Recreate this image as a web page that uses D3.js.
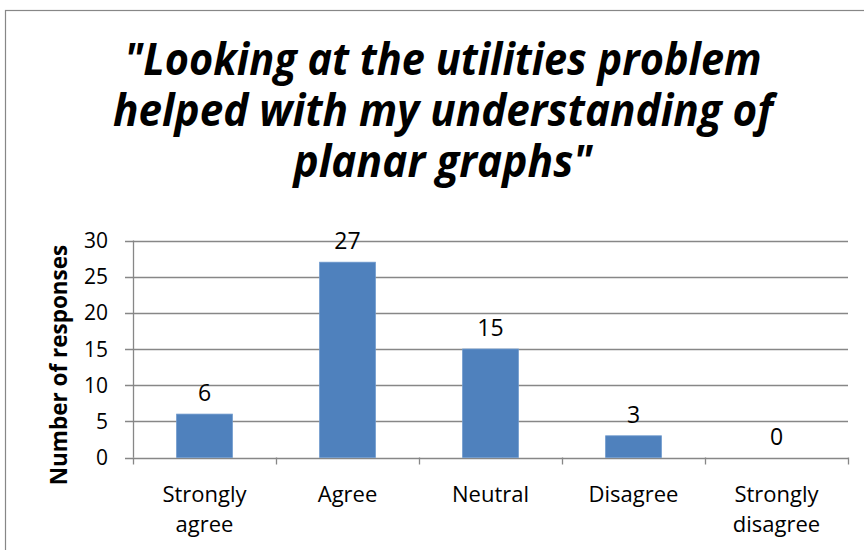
<!DOCTYPE html>
<html><head><meta charset="utf-8">
<script src="https://cdn.jsdelivr.net/npm/d3@7"></script>
<style>body{margin:0;background:#fff}svg{display:block}</style>
</head><body>
<svg id="chart" width="864" height="550"></svg>
<script>
const categories = [["Strongly","agree"],["Agree"],["Neutral"],["Disagree"],["Strongly","disagree"]];
const values = [6, 27, 15, 3, 0];
const yTicks = [0, 5, 10, 15, 20, 25, 30];
const titleLines = ['"Looking at the utilities problem', 'helped with my understanding of', 'planar graphs"'];
const titleWidths = [637, 660, 299];
const yTitle = "Number of responses";

(function() {
const svg = d3.select("#chart");
const font = "'Open Sans', 'Noto Sans', sans-serif";
const grey = "#878787";
const pLeft = 133, pRight = 848, pTop = 240.5, pBottom = 457.5;

// chart border
svg.append("rect").attr("x", 5.5).attr("y", 10.5).attr("width", 900).attr("height", 600)
  .attr("fill", "none").attr("stroke", grey).attr("stroke-width", 1.2);

// title
svg.append("g").selectAll("text").data(titleLines).join("text")
  .attr("x", 443).attr("y", (d, i) => 75 + i * 51)
  .attr("text-anchor", "middle")
  .attr("font-family", font).attr("font-weight", "bold").attr("font-style", "italic")
  .attr("font-size", 44).attr("fill", "#000")
  .attr("textLength", (d, i) => titleWidths[i]).attr("lengthAdjust", "spacingAndGlyphs")
  .text(d => d);

const x = d3.scaleBand().domain(d3.range(categories.length)).range([pLeft, pRight]).padding(0);
const y = d3.scaleLinear().domain([0, 30]).range([pBottom, pTop]);

// gridlines
svg.append("g").selectAll("line").data(yTicks).join("line")
  .attr("x1", pLeft - 8).attr("x2", pRight).attr("y1", d => Math.round(y(d)) + 0.5).attr("y2", d => Math.round(y(d)) + 0.5)
  .attr("stroke", grey).attr("stroke-width", 1.3);

// y axis line
svg.append("line").attr("x1", pLeft + 0.5).attr("x2", pLeft + 0.5).attr("y1", pTop).attr("y2", pBottom)
  .attr("stroke", grey).attr("stroke-width", 1.3);

// x tick marks at band boundaries
const bounds = d3.range(categories.length + 1).map(i => i < categories.length ? x(i) : pRight);
svg.append("g").selectAll("line").data(bounds).join("line")
  .attr("x1", d => Math.round(d) + 0.5).attr("x2", d => Math.round(d) + 0.5)
  .attr("y1", pBottom).attr("y2", pBottom + 7)
  .attr("stroke", grey).attr("stroke-width", 1.3);

// y tick labels
svg.append("g").selectAll("text").data(yTicks).join("text")
  .attr("x", 108).attr("y", d => y(d)).attr("dy", "0.36em")
  .attr("text-anchor", "end").attr("font-family", font).attr("font-size", 21).attr("fill", "#000")
  .text(d => d);

// y axis title
svg.append("text")
  .attr("transform", "translate(67,365) rotate(-90)")
  .attr("text-anchor", "middle").attr("font-family", font).attr("font-weight", "bold")
  .attr("font-size", 22.5).attr("fill", "#000").text(yTitle);

// bars
const bw = x.bandwidth() * 0.39;
svg.append("g").selectAll("rect").data(values).join("rect")
  .attr("x", (d, i) => x(i) + (x.bandwidth() - bw) / 2)
  .attr("y", d => y(d)).attr("width", bw).attr("height", d => y(0) - y(d))
  .attr("fill", "#4F81BD").attr("stroke", "#6d98cc").attr("stroke-width", 0.8);

// data labels
svg.append("g").selectAll("text").data(values).join("text")
  .attr("x", (d, i) => x(i) + x.bandwidth() / 2).attr("y", d => y(d) - 13)
  .attr("text-anchor", "middle").attr("font-family", font).attr("font-size", 23).attr("fill", "#000")
  .text(d => d);

// category labels
const cat = svg.append("g").selectAll("text").data(categories).join("text")
  .attr("text-anchor", "middle").attr("font-family", font).attr("font-size", 22).attr("fill", "#000");
cat.each(function(lines, i) {
  d3.select(this).selectAll("tspan").data(lines).join("tspan")
    .attr("x", x(i) + x.bandwidth() / 2).attr("y", (d, j) => 502 + j * 30).text(d => d);
});
})();
</script>
</body></html>
